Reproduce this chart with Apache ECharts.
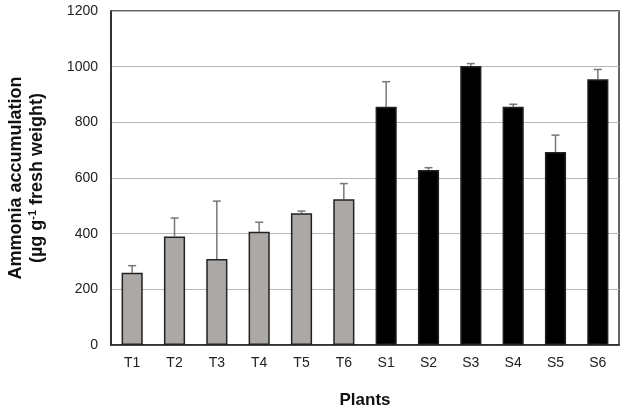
<!DOCTYPE html>
<html>
<head>
<meta charset="utf-8">
<script src="https://cdn.jsdelivr.net/npm/echarts@6/dist/echarts.min.js"></script>
<style>html,body{margin:0;padding:0;background:#fff;}#c{width:625px;height:411px;}</style>
</head>
<body>
<div id="c"></div>
<script>
var categories = ['T1','T2','T3','T4','T5','T6','S1','S2','S3','S4','S5','S6'];
var values = [260, 390, 309, 407, 473, 524, 856, 629, 1002, 856, 693, 955];
var errors = [25, 66, 208, 34, 8, 56, 90, 8, 9, 9, 61, 35];
var yTicks = [0, 200, 400, 600, 800, 1000, 1200];

var chart = echarts.init(document.getElementById('c'), null, {renderer: 'canvas'});
var font = '"Liberation Sans", Arial, sans-serif';
chart.setOption({
  animation: false,
  backgroundColor: '#fff',
  grid: {left: 111, right: 6, top: 11, bottom: 66, containLabel: false, outerBoundsMode: 'none',
         show: true, borderColor: '#333', borderWidth: 1.5, backgroundColor: 'transparent'},
  xAxis: {
    type: 'category',
    data: categories,
    axisLine: {lineStyle: {color: '#222', width: 1.5}},
    axisTick: {show: false},
    axisLabel: {color: '#222', fontSize: 14, fontFamily: font, margin: 11},
    name: 'Plants',
    nameLocation: 'middle',
    nameGap: 47,
    nameTextStyle: {color: '#111', fontSize: 17, fontWeight: 'bold', fontFamily: font}
  },
  yAxis: {
    type: 'value',
    min: yTicks[0],
    max: yTicks[yTicks.length - 1],
    interval: 200,
    axisLine: {show: true, lineStyle: {color: '#222', width: 1.5}},
    axisTick: {show: false},
    axisLabel: {color: '#222', fontSize: 14, fontFamily: font, margin: 13, formatter: function (v) { return String(v); }},
    splitLine: {lineStyle: {color: '#b8b8b8', width: 1}},
    name: '{a|Ammonia accumulation}\n{a|(µg g}{s|-1}{a| fresh weight)}',
    nameLocation: 'middle',
    nameRotate: 90,
    nameGap: 63,
    nameTextStyle: {
      fontFamily: font,
      lineHeight: 21,
      rich: {
        a: {fontSize: 18, fontWeight: 'bold', color: '#111', fontFamily: font, lineHeight: 21},
        s: {fontSize: 11, fontWeight: 'bold', color: '#111', fontFamily: font, verticalAlign: 'top', lineHeight: 14, padding: [0,0,8,0]}
      }
    }
  },
  series: [
    {
      type: 'bar',
      data: values,
      barWidth: '50%',
      itemStyle: {
        color: function (p) { return p.name.charAt(0) === 'T' ? '#aba8a6' : '#000'; },
        borderColor: '#222',
        borderWidth: 1.5
      },
      z: 2
    },
    {
      type: 'custom',
      data: values.map(function (v, i) { return [i, v, v + errors[i]]; }),
      renderItem: function (params, api) {
        var lo = api.coord([api.value(0), api.value(1)]);
        var hi = api.coord([api.value(0), api.value(2)]);
        var hw = 4;
        return {
          type: 'group',
          children: [
            {type: 'line', shape: {x1: lo[0], y1: lo[1], x2: hi[0], y2: hi[1]}, style: {stroke: '#777', lineWidth: 1.5}},
            {type: 'line', shape: {x1: hi[0] - hw, y1: hi[1], x2: hi[0] + hw, y2: hi[1]}, style: {stroke: '#777', lineWidth: 1.5}}
          ]
        };
      },
      z: 1
    }
  ]
});
</script>
</body>
</html>
